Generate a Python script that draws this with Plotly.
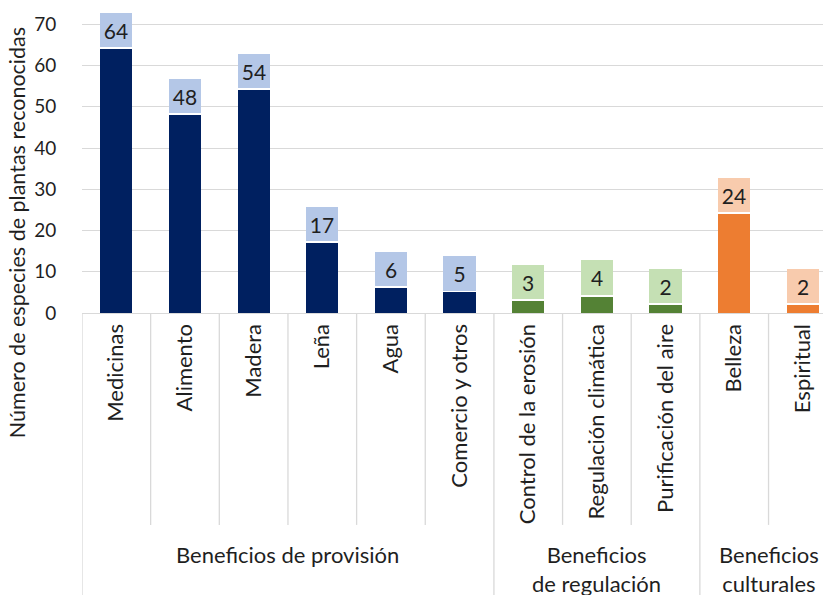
import plotly.graph_objects as go

# ---- data ----
categories = ["Medicinas", "Alimento", "Madera", "Leña", "Agua", "Comercio y otros",
              "Control de la erosión", "Regulación climática", "Purificación del aire",
              "Belleza", "Espiritual"]
groups = ["Beneficios de provisión"] * 6 + ["Beneficios<br>de regulación"] * 3 + ["Beneficios<br>culturales"] * 2
values = [64, 48, 54, 17, 6, 5, 3, 4, 2, 24, 2]
group_names = ["Beneficios de provisión", "Beneficios<br>de regulación", "Beneficios<br>culturales"]
y_ticks = [0, 10, 20, 30, 40, 50, 60, 70]

bar_colors = {"Beneficios de provisión": "#002060",
              "Beneficios<br>de regulación": "#548235",
              "Beneficios<br>culturales": "#ED7D31"}
box_colors = {"Beneficios de provisión": "#B4C7E7",
              "Beneficios<br>de regulación": "#C5E0B4",
              "Beneficios<br>culturales": "#F8CBAD"}

FONT = "Lato"
TXT = "#1f1f1f"
GRID = "#d9d9d9"

# page body has an 8px margin: figure is sized to fill the visible window
W, H = 823, 587
L, T, B = 74, 4, 282

fig = go.Figure()
fig.add_trace(go.Bar(
    x=categories, y=values,
    marker=dict(color=[bar_colors[g] for g in groups], line=dict(width=0)),
    width=0.47, hoverinfo="skip", showlegend=False))
BOX_H = 8.3
fig.add_trace(go.Bar(
    x=categories, y=[BOX_H] * len(values), base=[v + 0.45 for v in values],
    marker=dict(color=[box_colors[g] for g in groups], line=dict(width=0)),
    width=0.47, text=[str(v) for v in values], textposition="inside",
    insidetextanchor="middle", textangle=0, constraintext="none",
    textfont=dict(family=FONT, size=21, color=TXT),
    hoverinfo="skip", showlegend=False))

n = len(categories)
shapes = []
for i in range(n + 1):
    xb = i - 0.5
    if i == 0 or i == n or groups[i - 1] != groups[i]:
        y_end = -1.0
    else:
        y_end = -0.704
    shapes.append(dict(type="line", xref="x", yref="paper", x0=xb, x1=xb,
                       y0=0, y1=y_end, line=dict(color=GRID, width=1.3)))

annotations = []
for g in group_names:
    idx = [i for i, gg in enumerate(groups) if gg == g]
    xc = (idx[0] + idx[-1]) / 2
    annotations.append(dict(text=g, x=xc, xref="x", y=-0.75, yref="paper",
                            xanchor="center", yanchor="top", showarrow=False,
                            font=dict(family=FONT, size=22, color=TXT)))
annotations.append(dict(text="Número de especies de plantas reconocidas",
                        x=(9 - L) / (W - L), xref="paper", y=0.265, yref="paper",
                        textangle=-90, xanchor="center", yanchor="middle",
                        showarrow=False, font=dict(family=FONT, size=21.5, color=TXT)))

fig.update_layout(
    width=W, height=H,
    margin=dict(l=L, r=0, t=T, b=B, autoexpand=False),
    paper_bgcolor="white", plot_bgcolor="white",
    barmode="overlay", bargap=0,
    shapes=shapes, annotations=annotations,
    font=dict(family=FONT, color=TXT),
    xaxis=dict(type="category", range=[-0.5, 10.41], tickangle=-90, automargin=False,
               showgrid=False, showline=True, linecolor=GRID, linewidth=1.3,
               ticks="outside", ticklen=1, tickcolor="rgba(0,0,0,0)",
               tickfont=dict(family=FONT, size=22, color=TXT)),
    yaxis=dict(range=[0, 73], tickvals=y_ticks, showgrid=True, gridcolor=GRID,
               gridwidth=1.3, zeroline=False, showline=False, automargin=False,
               ticks="outside", ticklen=21, tickcolor="rgba(0,0,0,0)",
               tickfont=dict(family=FONT, size=19, color=TXT)),
)

fig.write_html("out.html")
